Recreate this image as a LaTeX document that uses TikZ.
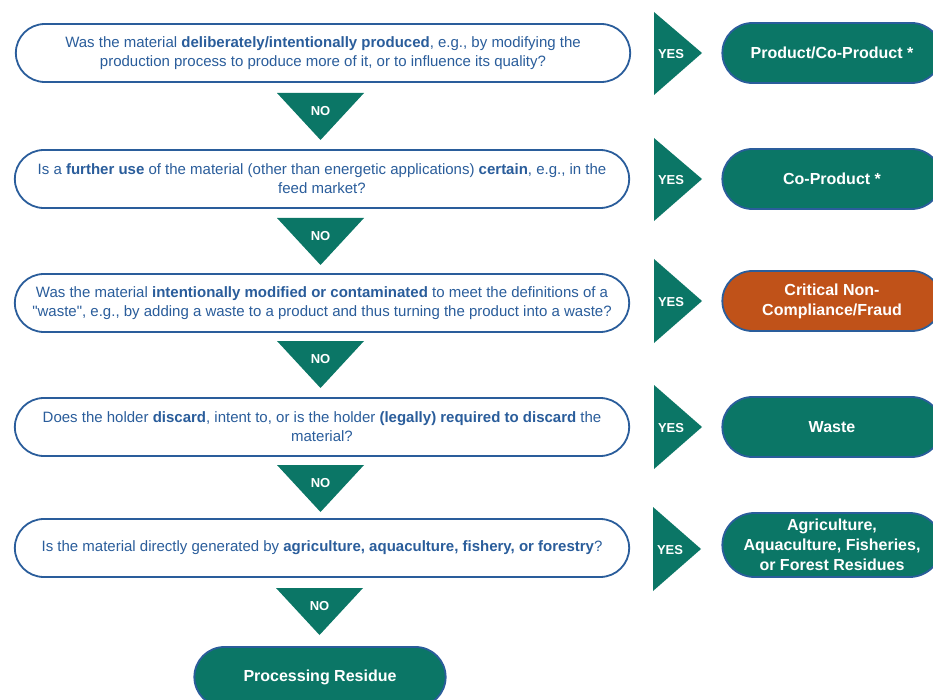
\documentclass[tikz,border=0pt]{standalone}
\usepackage{fontspec}
\setmainfont{Liberation Sans}
\usetikzlibrary{shapes.misc}
\definecolor{qblue}{HTML}{2A5D9B}
\definecolor{rteal}{HTML}{0B7666}
\definecolor{rorange}{HTML}{C05219}
\tikzset{
	question/.style={rounded rectangle,draw=qblue,line width=1.8pt,fill=white,minimum width=621pt,minimum height=58pt,align=center,text=qblue,font=\fontsize{15}{19}\selectfont},
	result/.style={rounded rectangle,draw=qblue,line width=1.8pt,fill=rteal,minimum width=226pt,minimum height=60pt,align=center,text=white,font=\bfseries\fontsize{16}{20}\selectfont},
	arrowtri/.style={fill=rteal},
	nolabel/.style={text=white,inner sep=0pt,font=\bfseries\fontsize{13}{15}\selectfont}}

\begin{document}
\begin{tikzpicture}[x=1pt,y=-1pt]
	\useasboundingbox (0,0) rectangle (933,700);
	\clip (0,0) rectangle (933,700);
	% questions
	\node (Q1) at (323,53) [question] {Was the material \textbf{deliberately/intentionally produced}, e.g., by modifying the\\production process to produce more of it, or to influence its quality?};
	\node (Q2) at (322,179) [question] {Is a \textbf{further use} of the material (other than energetic applications) \textbf{certain}, e.g., in the\\feed market?};
	\node (Q3) at (322,303) [question] {Was the material \textbf{intentionally modified or contaminated} to meet the definitions of a\\\textquotedbl waste\textquotedbl, e.g., by adding a waste to a product and thus turning the product into a waste?};
	\node (Q4) at (322,427) [question] {Does the holder \textbf{discard}, intent to, or is the holder \textbf{(legally) required to discard} the\\material?};
	\node (Q5) at (322,548) [question] {Is the material directly generated by \textbf{agriculture, aquaculture, fishery, or forestry}?};
	% results
	\node (R1) at (832,53) [result] {Product/Co-Product *};
	\node (R2) at (832,179) [result] {Co-Product *};
	\node (R3) at (832,301) [result,fill=rorange] {Critical Non-\\Compliance/Fraud};
	\node (R4) at (832,427) [result] {Waste};
	\node (R5) at (832,545) [result,minimum height=64pt] {Agriculture,\\Aquaculture, Fisheries,\\or Forest Residues};
	\node (R6) at (320,677) [result,minimum width=258pt] {Processing Residue};
	% NO triangles
	\fill [arrowtri] (277,93) -- (364,93) -- (320.5,140) -- cycle;
	\fill [arrowtri] (277,218) -- (364,218) -- (320.5,265) -- cycle;
	\fill [arrowtri] (277,341) -- (364,341) -- (320.5,388) -- cycle;
	\fill [arrowtri] (277,465) -- (364,465) -- (320.5,512) -- cycle;
	\fill [arrowtri] (276,588) -- (363,588) -- (319.5,635) -- cycle;
	\node (N1) at (320.5,111) [nolabel] {NO};
	\node (N2) at (320.5,236) [nolabel] {NO};
	\node (N3) at (320.5,359) [nolabel] {NO};
	\node (N4) at (320.5,483) [nolabel] {NO};
	\node (N5) at (319.5,606) [nolabel] {NO};
	% YES triangles
	\fill [arrowtri] (654,12) -- (702,53) -- (654,95) -- cycle;
	\fill [arrowtri] (654,138) -- (702,179) -- (654,221) -- cycle;
	\fill [arrowtri] (654,259) -- (702,301) -- (654,343) -- cycle;
	\fill [arrowtri] (654,385) -- (702,427) -- (654,469) -- cycle;
	\fill [arrowtri] (653,507) -- (701,549) -- (653,591) -- cycle;
	\node (Y1) at (671,54) [nolabel] {YES};
	\node (Y2) at (671,180) [nolabel] {YES};
	\node (Y3) at (671,302) [nolabel] {YES};
	\node (Y4) at (671,428) [nolabel] {YES};
	\node (Y5) at (670,550) [nolabel] {YES};
\end{tikzpicture}
\end{document}
